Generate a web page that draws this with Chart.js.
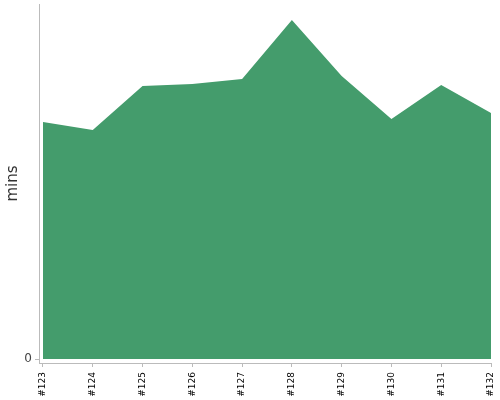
<!DOCTYPE html>
<html>
<head>
<meta charset="utf-8">
<script src="https://cdn.jsdelivr.net/npm/chart.js@4"></script>
<style>
  html, body { margin: 0; padding: 0; background: #fff; }
  #wrap { width: 500px; height: 400px; }
</style>
</head>
<body>
<div id="wrap"><canvas id="buildChart"></canvas></div>
<script>
const builds = ['#123', '#124', '#125', '#126', '#127', '#128', '#129', '#130', '#131', '#132'];
const minutes = [23.7, 22.9, 27.3, 27.5, 28.0, 33.9, 28.3, 24.0, 27.4, 24.6];
const yTicks = [0];

new Chart(document.getElementById('buildChart'), {
    type: 'line',
    data: {
        datasets: [{
            label: 'mins',
            data: minutes.map((v, i) => ({ x: i, y: v })),
            backgroundColor: '#449c6c',
            borderWidth: 0,
            pointRadius: 0,
            fill: 'origin',
            tension: 0
        }]
    },
    options: {
        responsive: true,
        maintainAspectRatio: false,
        animation: false,
        layout: { padding: { top: 4, right: 9, left: 0, bottom: 0 } },
        scales: {
            x: {
                type: 'linear',
                min: -0.08,
                max: builds.length - 1,
                afterBuildTicks: s => { s.ticks = builds.map((b, i) => ({ value: i })); },
                afterFit: s => { s.height = 37; s.paddingLeft = 0; s.paddingRight = 0; },
                ticks: {
                    autoSkip: false,
                    minRotation: 90,
                    maxRotation: 90,
                    padding: 5,
                    color: '#000',
                    font: { family: 'DejaVu Sans', size: 9 },
                    callback: v => builds[v]
                },
                grid: { drawOnChartArea: false, tickLength: 4, color: '#bbb' },
                border: { color: '#bbb' }
            },
            y: {
                min: -0.4,
                max: 35.5,
                afterBuildTicks: s => { s.ticks = yTicks.map(v => ({ value: v })); },
                afterFit: s => { s.width = 39; s.paddingTop = 0; s.paddingBottom = 0; },
                ticks: {
                    padding: 3,
                    color: '#444',
                    font: { family: 'DejaVu Sans', size: 12 }
                },
                grid: { drawOnChartArea: false, tickLength: 4, color: '#bbb' },
                border: { color: '#bbb' },
                title: {
                    display: true,
                    text: 'mins',
                    color: '#333',
                    font: { family: 'DejaVu Sans', size: 15 },
                    padding: { top: 4, bottom: 0 }
                }
            }
        },
        plugins: {
            legend: { display: false },
            tooltip: { enabled: false }
        }
    }
});
</script>
</body>
</html>
